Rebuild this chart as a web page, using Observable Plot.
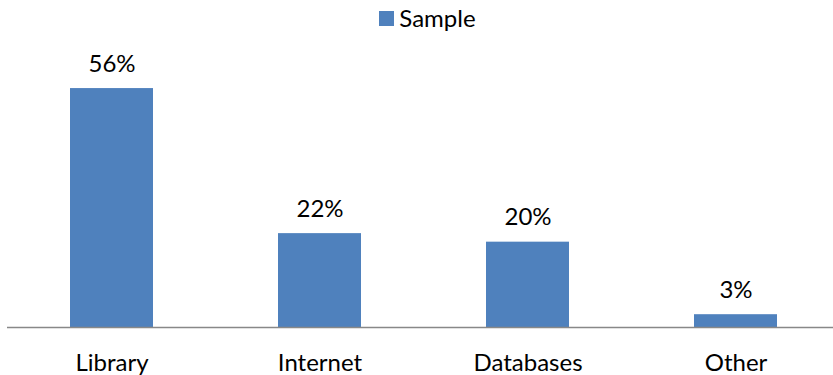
<!DOCTYPE html>
<html>
<head>
<meta charset="utf-8">
<script src="https://cdn.jsdelivr.net/npm/d3@7"></script>
<script src="https://cdn.jsdelivr.net/npm/@observablehq/plot@0.6"></script>
<style>
  body { margin: 0; background: #fff; font-family: Lato, "Open Sans", sans-serif; overflow: hidden; }
  #legend { height: 38px; display: flex; justify-content: center; align-items: flex-start; padding-left: 22px; box-sizing: border-box; }
  #legend .item { display: flex; align-items: center; font-size: 24px; color: #000; line-height: 36px; }
  #legend .sw { width: 15px; height: 15px; background: #4F81BD; margin-right: 5px; }
  #chart svg { display: block; }
</style>
</head>
<body>
<div id="legend"><div class="item"><span class="sw"></span><span>Sample</span></div></div>
<div id="chart"></div>
<script>
const categories = ["Library", "Internet", "Databases", "Other"];
const values = [56, 22, 20, 3];
const labels = ["56%", "22%", "20%", "3%"];
const seriesName = "Sample";

const data = categories.map((c, i) => ({category: c, value: values[i], label: labels[i]}));

const chart = Plot.plot({
  width: 833,
  height: 337,
  marginTop: 33,
  marginBottom: 48,
  marginLeft: 7,
  marginRight: 0,
  style: {fontFamily: "Lato, 'Open Sans', sans-serif", fontSize: "24px", color: "#000", background: "#fff"},
  x: {domain: categories, range: [7, 840], paddingInner: 0.6, paddingOuter: 0.3, label: null},
  y: {domain: [0, 60], axis: null},
  marks: [
    Plot.barY(data, {x: "category", y: "value", fill: "#4F81BD"}),
    Plot.ruleY([0], {stroke: "#888888", strokeWidth: 1.5}),
    Plot.text(data, {x: "category", y: "value", text: "label", lineAnchor: "bottom", dy: -17, fontSize: 24, fill: "#000"}),
    Plot.axisX({tickSize: 0, tickPadding: 26, fontSize: 24, label: null, color: "#000"})
  ]
});
document.getElementById("chart").appendChild(chart);
</script>
</body>
</html>
